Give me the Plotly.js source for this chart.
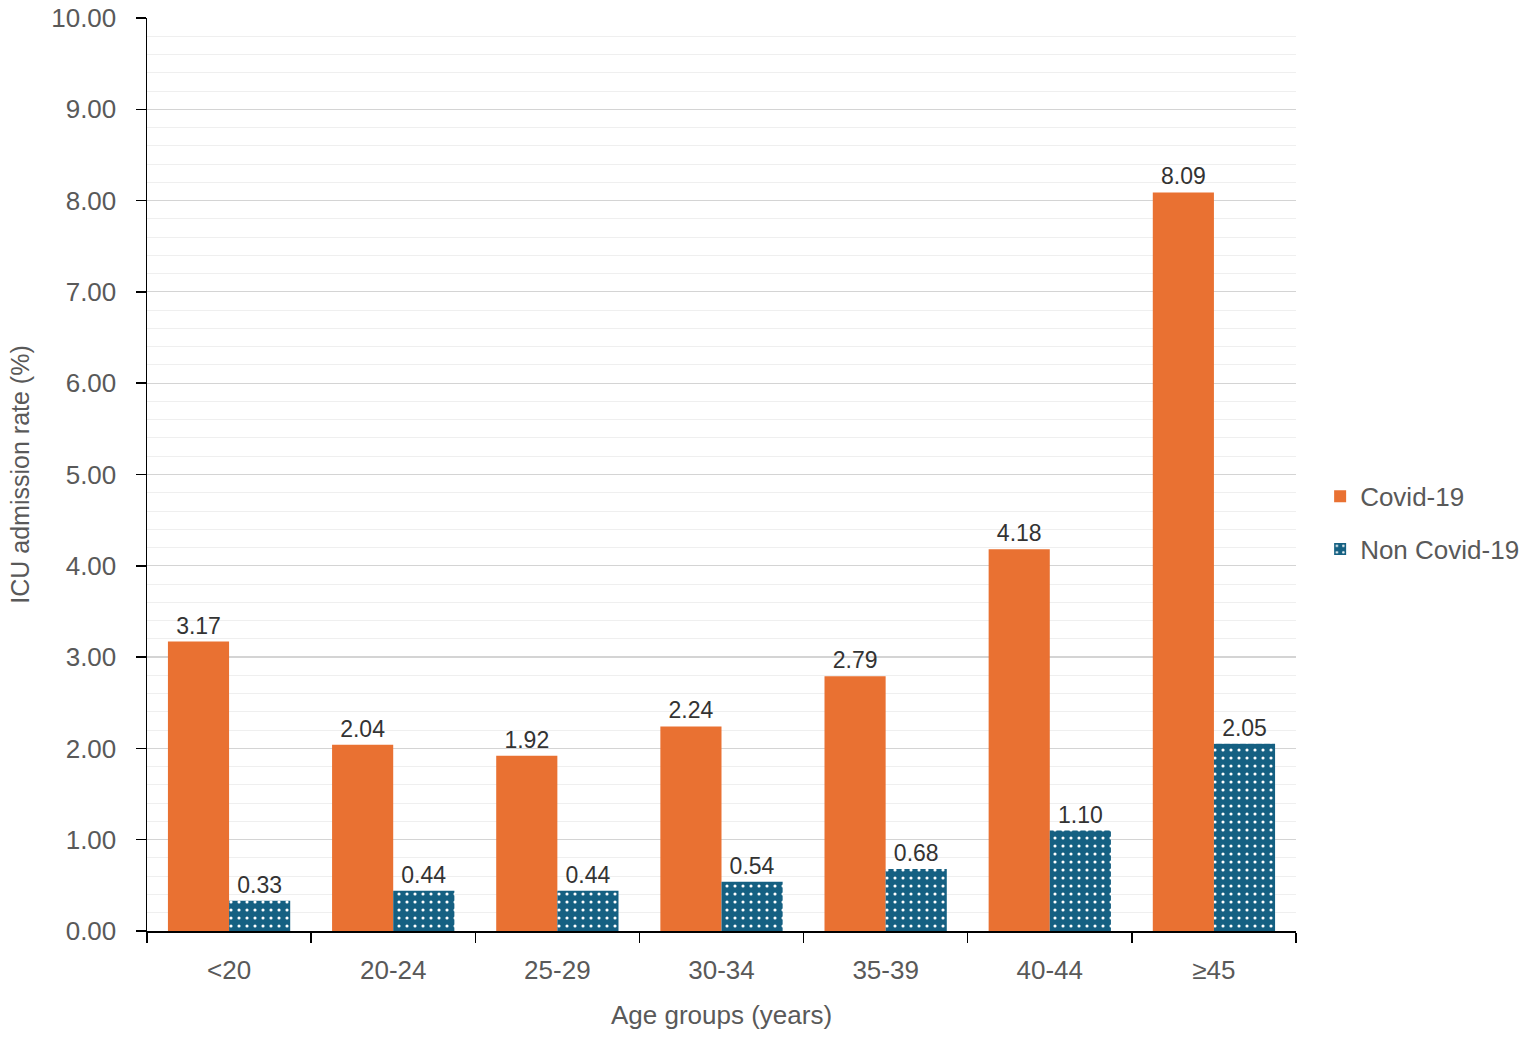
<!DOCTYPE html>
<html>
<head>
<meta charset="utf-8">
<script src="https://cdn.plot.ly/plotly-3.0.1.min.js"></script>
<style>
  html, body { margin: 0; padding: 0; background: #fff; }
  #chart { width: 1536px; height: 1039px; }
</style>
</head>
<body>
<div id="chart"></div>
<script>
// age groups on the x axis
const ageGroups = ['<20', '20-24', '25-29', '30-34', '35-39', '40-44', '\u226545'];
// ICU admission rate (%)
const covidRates = [3.17, 2.04, 1.92, 2.24, 2.79, 4.18, 8.09];
const nonCovidRates = [0.33, 0.44, 0.44, 0.54, 0.68, 1.10, 2.05];
const yTicks = [0, 1, 2, 3, 4, 5, 6, 7, 8, 9, 10];

const FONT = 'Liberation Sans, Arial, sans-serif';

let dataDraw = [
    {
        type: 'bar',
        name: 'Covid-19',
        legendgroup: 'a',
        x: ageGroups,
        y: covidRates,
        text: covidRates.map(v => v.toFixed(2)),
        textposition: 'outside',
        cliponaxis: false,
        textfont: { size: 23, color: '#333333', family: FONT },
        marker: { color: '#E97132' },
        hoverinfo: 'x+y'
    },
    {
        type: 'bar',
        name: 'Non Covid-19',
        legendgroup: 'b',
        x: ageGroups,
        y: nonCovidRates,
        text: nonCovidRates.map(v => v.toFixed(2)),
        textposition: 'outside',
        cliponaxis: false,
        textfont: { size: 23, color: '#333333', family: FONT },
        marker: {
            color: '#156082',
            pattern: { shape: '.', fgcolor: '#ffffff', bgcolor: '#156082', size: 8, solidity: 0.12, fillmode: 'replace' }
        },
        hoverinfo: 'x+y'
    }
];

let layout = {
    width: 1536,
    height: 1039,
    autosize: false,
    margin: { l: 147, r: 240, t: 18, b: 108, autoexpand: false },
    paper_bgcolor: '#ffffff',
    plot_bgcolor: '#ffffff',
    font: { family: FONT, color: '#595959' },
    barmode: 'group',
    bargap: 0.255,
    bargroupgap: 0,
    showlegend: true,
    legend: {
        x: 1.021, y: 0.447, xanchor: 'left', yanchor: 'middle',
        traceorder: 'grouped',
        font: { size: 26, color: '#595959', family: FONT },
        tracegroupgap: 16,
        itemwidth: 30
    },
    xaxis: {
        type: 'category',
        showline: true,
        linecolor: '#000000',
        linewidth: 1.5,
        ticks: 'outside',
        tickson: 'boundaries',
        ticklen: 10,
        tickcolor: '#000000',
        tickwidth: 1.5,
        ticklabelstandoff: 15,
        tickfont: { size: 26, color: '#595959' },
        showgrid: false,
        title: { text: 'Age groups (years)', font: { size: 26, color: '#595959' }, standoff: 22 }
    },
    yaxis: {
        range: [0, 10],
        tickvals: yTicks,
        tickformat: '.2f',
        showline: true,
        linecolor: '#000000',
        linewidth: 1.5,
        ticks: 'outside',
        ticklen: 10,
        tickcolor: '#000000',
        tickwidth: 1.5,
        ticklabelstandoff: 14,
        tickfont: { size: 26, color: '#595959' },
        showgrid: true,
        gridcolor: '#d4d4d4',
        gridwidth: 1.2,
        zeroline: false,
        minor: { dtick: 0.2, showgrid: true, gridcolor: '#efefef', gridwidth: 1, ticks: '' },
        title: { text: 'ICU admission rate (%)', font: { size: 25, color: '#595959' }, standoff: 14 }
    }
};

Plotly.newPlot('chart', dataDraw, layout, { displayModeBar: false, staticPlot: true });
</script>
</body>
</html>
